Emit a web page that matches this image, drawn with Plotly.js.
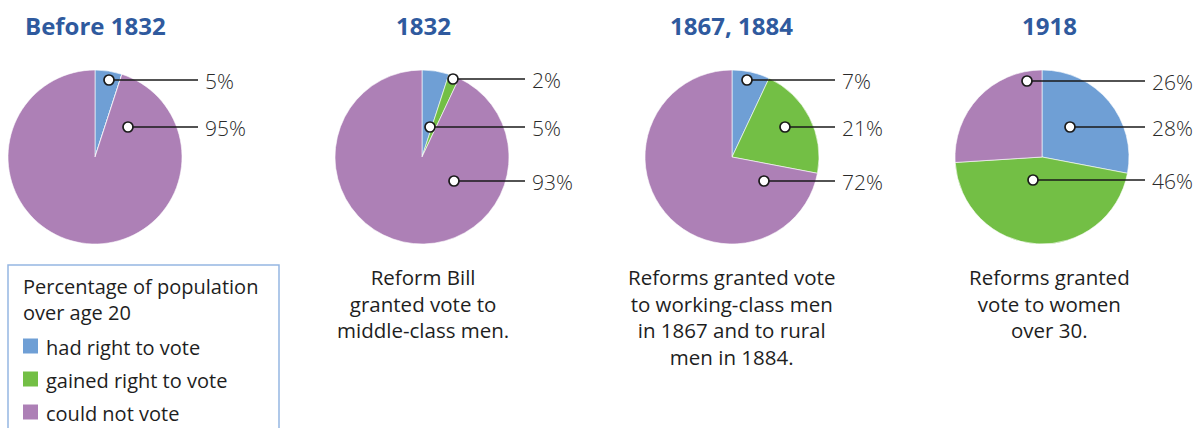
<!DOCTYPE html>
<html>
<head>
<meta charset="utf-8">
<script src="https://cdn.plot.ly/plotly-3.0.1.min.js"></script>
<style>
  html, body { margin: 0; padding: 0; background: #ffffff; }
  #chart { width: 1198px; height: 428px; }
</style>
</head>
<body>
<div id="chart"></div>
<script>
// ---------- DATA ----------
const categories = ['had right to vote', 'gained right to vote', 'could not vote'];
const periods = ['Before 1832', '1832', '1867, 1884', '1918'];
const valuesBefore1832 = [5, 0, 95];
const values1832 = [5, 2, 93];
const values1867 = [7, 21, 72];
const values1918 = [28, 46, 26];
const captions = [
  '',
  'Reform Bill<br>granted vote to<br>middle-class men.',
  'Reforms granted vote<br>to working-class men<br>in 1867 and to rural<br>men in 1884.',
  'Reforms granted<br>vote to women<br>over 30.'
];
const legendTitle = 'Percentage of population<br>over age 20';

// ---------- LAYOUT / STYLE ----------
const W = 1198, H = 428;
const colors = ['#6f9fd5', '#73bf45', '#ad80b6'];
const titleColor = '#2f5a9e';
const textColor = '#1e1e1e';
const pieCX = [95, 422, 732, 1042];
const columnCX = [95, 423, 731, 1049];
const pieCY = 157, pieR = 87;
// callouts: slice index, row y, circle x offset from pie centre
const callouts = [
  [{i: 0, y: 80, dx: 14}, {i: 2, y: 127, dx: 33}],
  [{i: 1, y: 79, dx: 31}, {i: 0, y: 127, dx: 8}, {i: 2, y: 181, dx: 32}],
  [{i: 0, y: 80, dx: 15}, {i: 1, y: 127, dx: 53}, {i: 2, y: 181, dx: 32}],
  [{i: 2, y: 81, dx: -15}, {i: 0, y: 127, dx: 28}, {i: 1, y: 180, dx: -9}]
];
const allValues = [valuesBefore1832, values1832, values1867, values1918];

const px = x => x / W;
const py = y => 1 - y / H;
const FONT = '"Open Sans", "Noto Sans", sans-serif';

const traces = allValues.map((vals, k) => ({
  type: 'pie',
  values: vals,
  labels: categories,
  sort: false,
  direction: 'clockwise',
  rotation: 0,
  textinfo: 'none',
  hoverinfo: 'label+percent',
  showlegend: false,
  marker: { colors: colors, line: { color: '#ffffff', width: 0.6 } },
  domain: {
    x: [px(pieCX[k] - pieR), px(pieCX[k] + pieR)],
    y: [py(pieCY + pieR), py(pieCY - pieR)]
  }
}));

const shapes = [];
const annotations = [];

// titles and captions
periods.forEach((t, k) => {
  annotations.push({
    xref: 'paper', yref: 'paper', x: px(columnCX[k]), y: py(25),
    xanchor: 'center', yanchor: 'middle', showarrow: false,
    text: '<b>' + t + '</b>',
    font: { family: FONT, size: 24, color: titleColor }
  });
  if (captions[k]) {
    annotations.push({
      xref: 'paper', yref: 'paper', x: px(columnCX[k]), y: py(261),
      xanchor: 'center', yanchor: 'top', showarrow: false, align: 'center',
      text: captions[k],
      font: { family: FONT, size: 20.5, color: textColor }
    });
  }
});

// callouts
callouts.forEach((list, k) => {
  list.forEach(c => {
    const x0 = pieCX[k] + c.dx;
    shapes.push({
      type: 'line', xref: 'paper', yref: 'paper',
      x0: px(x0), x1: px(pieCX[k] + 103), y0: py(c.y), y1: py(c.y),
      line: { color: '#1a1a1a', width: 1.7 }
    });
    shapes.push({
      type: 'circle', xref: 'paper', yref: 'paper',
      x0: px(x0 - 5), x1: px(x0 + 5), y0: py(c.y + 5), y1: py(c.y - 5),
      fillcolor: '#ffffff', line: { color: '#1a1a1a', width: 1.7 }
    });
    annotations.push({
      xref: 'paper', yref: 'paper', x: px(pieCX[k] + 108), y: py(c.y + 1),
      xanchor: 'left', yanchor: 'middle', showarrow: false,
      text: allValues[k][c.i] + '%',
      font: { family: FONT, size: 21, color: '#2a2a2a', weight: 300 }
    });
  });
});

// legend box
shapes.push({
  type: 'rect', xref: 'paper', yref: 'paper',
  x0: px(8), x1: px(279), y0: py(265), y1: py(440),
  line: { color: '#95b6e2', width: 1.5 }, fillcolor: 'rgba(0,0,0,0)'
});
annotations.push({
  xref: 'paper', yref: 'paper', x: px(21), y: py(271),
  xanchor: 'left', yanchor: 'top', showarrow: false, align: 'left',
  text: legendTitle,
  font: { family: FONT, size: 20, color: textColor }
});
const legendRows = [346, 379, 412];
categories.forEach((cat, i) => {
  shapes.push({
    type: 'rect', xref: 'paper', yref: 'paper',
    x0: px(23), x1: px(38), y0: py(legendRows[i] + 7.5), y1: py(legendRows[i] - 7.5),
    fillcolor: colors[i], line: { width: 0 }
  });
  annotations.push({
    xref: 'paper', yref: 'paper', x: px(44), y: py(legendRows[i] + 1),
    xanchor: 'left', yanchor: 'middle', showarrow: false,
    text: cat,
    font: { family: FONT, size: 20, color: textColor }
  });
});

const layout = {
  width: W, height: H,
  margin: { l: 0, r: 0, t: 0, b: 0 },
  paper_bgcolor: '#ffffff',
  plot_bgcolor: '#ffffff',
  showlegend: false,
  shapes: shapes,
  annotations: annotations
};

Plotly.newPlot('chart', traces, layout, { displayModeBar: false, staticPlot: true });
</script>
</body>
</html>
